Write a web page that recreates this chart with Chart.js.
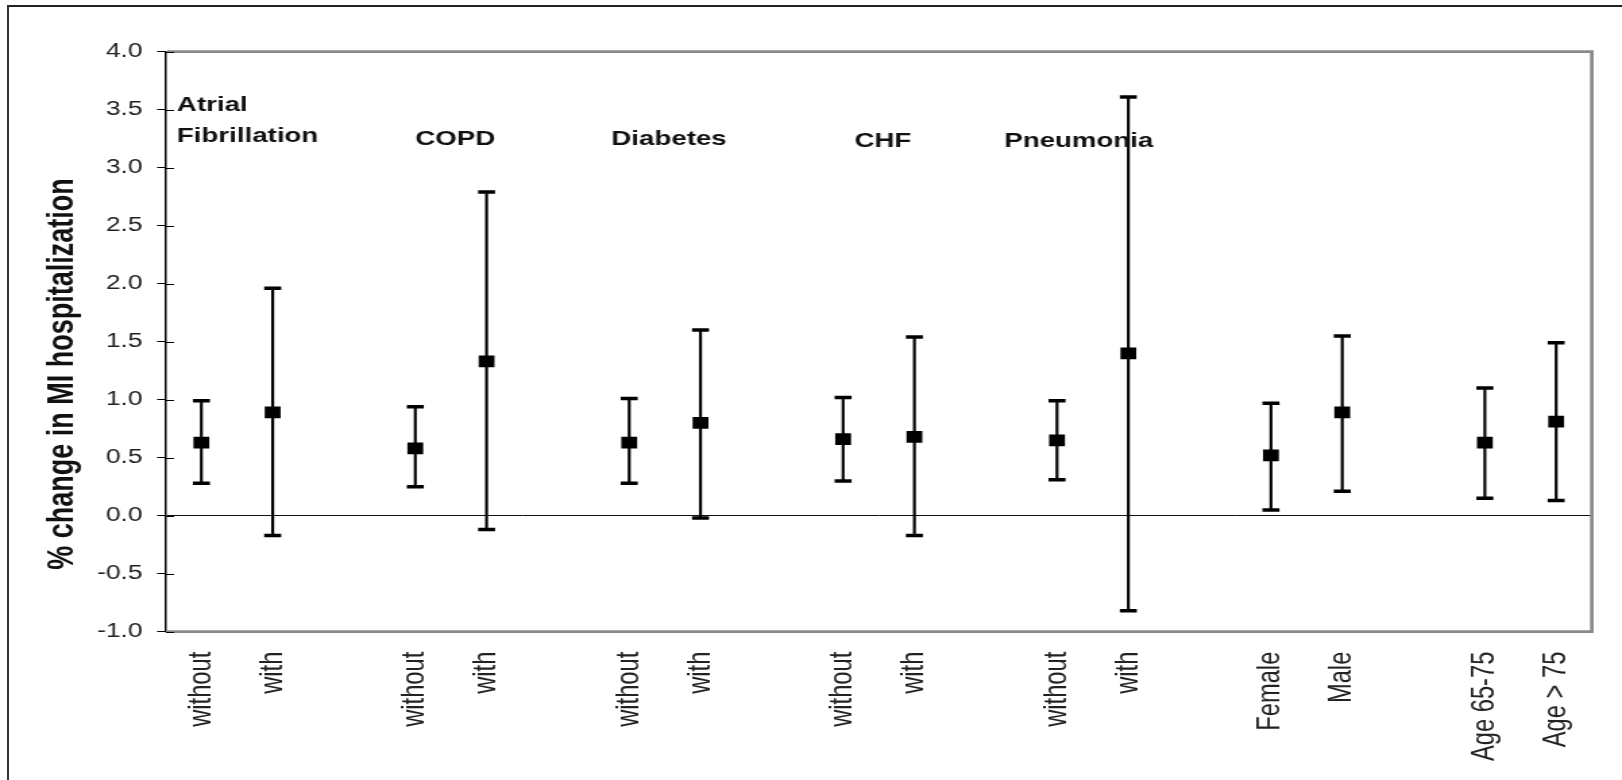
<!DOCTYPE html>
<html><head><meta charset="utf-8">
<script src="https://cdn.jsdelivr.net/npm/chart.js@4.4.1/dist/chart.umd.min.js"></script>
<style>
html,body{margin:0;padding:0;background:#fff;overflow:hidden;width:1622px;height:780px;}
#frame{position:absolute;left:7px;top:5px;width:1700px;height:900px;border-left:2px solid #333;border-top:2px solid #222;}
#wrap{position:absolute;left:0;top:0;width:1202px;height:780px;transform:scaleX(1.3494176);transform-origin:0 0;}
</style></head><body>
<div id="frame"></div>
<div id="wrap"><canvas id="c" width="1202" height="780"></canvas></div>
<script>
// ---- data ----
const categories = ['without','with','','without','with','','without','with','','without','with','','without','with','','Female','Male','','Age 65-75','Age > 75'];
const meanValues  = [0.63, 0.89, null, 0.58, 1.33, null, 0.63, 0.80, null, 0.66, 0.68, null, 0.65, 1.40, null, 0.52, 0.89, null, 0.63, 0.81];
const lowerValues = [0.28,-0.17, null, 0.25,-0.12, null, 0.28,-0.02, null, 0.30,-0.17, null, 0.31,-0.82, null, 0.05, 0.21, null, 0.15, 0.13];
const upperValues = [0.99, 1.96, null, 0.94, 2.79, null, 1.01, 1.60, null, 1.02, 1.54, null, 0.99, 3.61, null, 0.97, 1.55, null, 1.10, 1.49];
const groupNames = [['Atrial','Fibrillation'], ['COPD'], ['Diabetes'], ['CHF'], ['Pneumonia']];
const yAxisTitle = '% change in MI hospitalization';
const yMin = -1.0, yMax = 4.0, yStep = 0.5;

const FONT = "'Liberation Sans', Arial, Helvetica, sans-serif";

const decor = {
  id: 'decor',
  beforeDatasetsDraw(chart, args, o) {
    const {ctx, chartArea: a, scales: {y}} = chart;
    ctx.save();
    ctx.strokeStyle = o.frameColor; ctx.lineWidth = o.frameWidth;
    ctx.beginPath();
    ctx.moveTo(a.left + 1, a.top); ctx.lineTo(a.right, a.top);
    ctx.lineTo(a.right, a.bottom); ctx.lineTo(a.left + 1, a.bottom);
    ctx.stroke();
    ctx.strokeStyle = '#000'; ctx.lineWidth = 1;
    y.ticks.forEach(t => {
      const py = Math.round(y.getPixelForValue(t.value)) + 0.5;
      ctx.beginPath(); ctx.moveTo(a.left, py); ctx.lineTo(a.left + o.innerTick, py); ctx.stroke();
    });
    ctx.restore();
  },
  afterDraw(chart, args, o) {
    const {ctx, chartArea: a, scales: {x, y}} = chart;
    ctx.save();
    ctx.fillStyle = '#111';
    ctx.font = 'bold ' + o.groupFontSize + 'px ' + FONT;
    ctx.textAlign = 'left'; ctx.textBaseline = 'alphabetic';
    groupNames.forEach((lines, i) => {
      const p = o.groupPos[i];
      const px = x.getPixelForValue(p.x);
      const py = y.getPixelForValue(p.y);
      lines.forEach((ln, k) => ctx.fillText(ln, px, py + k * o.groupLineGap));
    });
    ctx.translate(o.titleX, o.titleY);
    ctx.rotate(-Math.PI / 2);
    ctx.font = 'bold ' + o.titleFontSize + 'px ' + FONT;
    ctx.textAlign = 'center'; ctx.textBaseline = 'middle';
    ctx.fillText(yAxisTitle, 0, 0);
    ctx.restore();
  }
};

new Chart(document.getElementById('c'), {
  type: 'bar',
  data: {
    labels: categories,
    datasets: [
      { type: 'line', label: 'mean', data: meanValues, showLine: false, pointStyle: 'rect',
        pointRadius: 8.3, pointHoverRadius: 8.3, pointBackgroundColor: '#000', pointBorderWidth: 0,
        borderColor: '#000', backgroundColor: '#000', order: 0 },
      { type: 'line', label: 'upper', data: upperValues, showLine: false, pointStyle: 'line',
        pointRadius: 6.3, pointHoverRadius: 6.3, pointBorderWidth: 3.5, pointBorderColor: '#000',
        borderColor: '#000', order: 1 },
      { type: 'line', label: 'lower', data: lowerValues, showLine: false, pointStyle: 'line',
        pointRadius: 6.3, pointHoverRadius: 6.3, pointBorderWidth: 3.5, pointBorderColor: '#000',
        borderColor: '#000', order: 1 },
      { type: 'bar', label: 'range', data: lowerValues.map((l, i) => l === null ? null : [l, upperValues[i]]),
        backgroundColor: '#000', borderWidth: 0, barThickness: 1.5, order: 2 }
    ]
  },
  options: {
    responsive: false, animation: false, devicePixelRatio: 1,
    layout: { padding: { top: 51.7, right: 14.1, left: 0, bottom: 0 } },
    plugins: {
      legend: { display: false }, tooltip: { enabled: false },
      decor: {
        frameColor: '#8a8a8a', frameWidth: 2.7, innerTick: 6.2,
        groupFontSize: 20.5, groupLineGap: 31,
        groupPos: [ {x: -0.343, y: 3.49}, {x: 3.0, y: 3.20}, {x: 5.75, y: 3.20}, {x: 9.16, y: 3.18}, {x: 11.26, y: 3.18} ],
        titleFontSize: 27, titleX: 47, titleY: 374
      }
    },
    scales: {
      x: {
        type: 'category', offset: true,
        grid: { display: false, drawTicks: false, tickLength: 0 },
        border: { display: false },
        ticks: { autoSkip: false, maxRotation: 90, minRotation: 90, padding: 20, color: '#222',
                 font: { family: FONT, size: 23.7 } },
        afterFit(s) { s.height = 148.3; }
      },
      y: {
        min: yMin, max: yMax,
        ticks: { stepSize: yStep, callback: v => Number(v).toFixed(1), padding: 10.7, color: '#222',
                 font: { family: FONT, size: 19.6 } },
        grid: { color: c => (c.tick && Math.abs(c.tick.value) < 1e-9) ? '#111' : 'rgba(0,0,0,0)',
                lineWidth: 1, tickColor: '#000', tickLength: 6.4, tickWidth: 1, drawTicks: true },
        border: { display: true, color: '#000', width: 1.5 },
        afterFit(s) { s.width = 122.8; }
      }
    }
  },
  plugins: [decor]
});
</script>
</body></html>
